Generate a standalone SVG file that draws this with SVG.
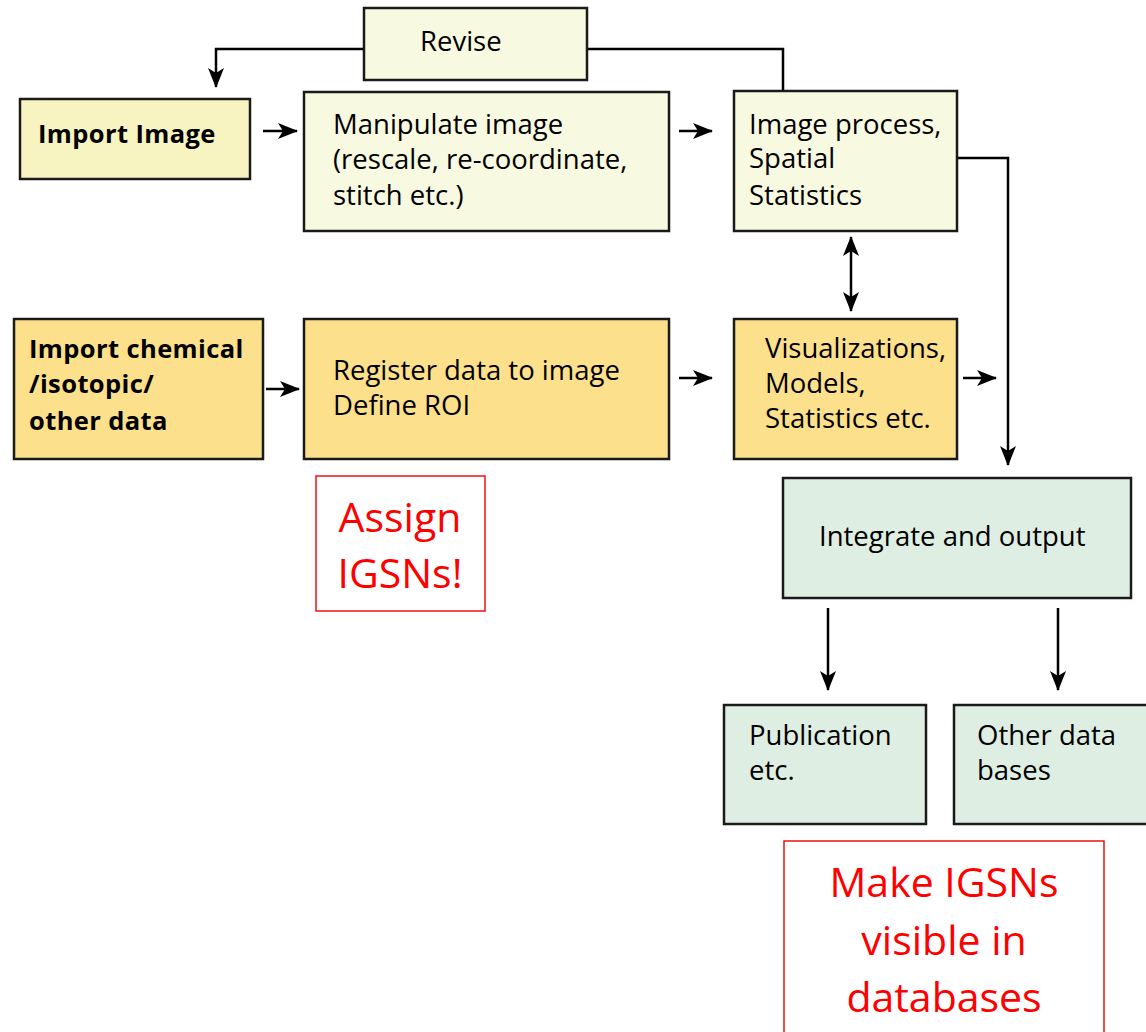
<svg xmlns="http://www.w3.org/2000/svg" width="1146" height="1032" viewBox="0 0 1146 1032">
<style>
.box{stroke:#1a1a1a;stroke-width:2.5}
.ly{fill:#f8f9e1}
.iy{fill:#f8f4c2}
.or{fill:#fde08b}
.gr{fill:#deeee3}
.red{fill:none;stroke:#ee1111;stroke-width:1.5}
.t{font-family:"Open Sans","Noto Sans",sans-serif;font-size:27.5px;fill:#000}
.b{font-family:"Open Sans","Noto Sans",sans-serif;font-size:25.5px;font-weight:bold;fill:#000;letter-spacing:0.4px}
.rt{font-family:"Open Sans","Noto Sans",sans-serif;font-size:41px;fill:#ff0000;text-anchor:middle}
.c{fill:none;stroke:#000;stroke-width:2.5}
</style>
<defs>
<marker id="ah" viewBox="0 0 20 16" refX="19" refY="8" markerWidth="20" markerHeight="16" orient="auto-start-reverse" markerUnits="userSpaceOnUse">
<path d="M0,0 L20,8 L0,16 L5,8 z" fill="#000"/>
</marker>
</defs>
<g id="connectors">
<path class="c" d="M364,49 H216 V87" marker-end="url(#ah)"/>
<path class="c" d="M587,49 H783 V91"/>
<path class="c" d="M263,131 H297" marker-end="url(#ah)"/>
<path class="c" d="M679,131 H712" marker-end="url(#ah)"/>
<path class="c" d="M957,158 H1008 V465" marker-end="url(#ah)"/>
<path class="c" d="M851,237 V311" marker-start="url(#ah)" marker-end="url(#ah)"/>
<path class="c" d="M266,389 H299" marker-end="url(#ah)"/>
<path class="c" d="M679,378 H712" marker-end="url(#ah)"/>
<path class="c" d="M963,378 H996" marker-end="url(#ah)"/>
<path class="c" d="M828,608 V690" marker-end="url(#ah)"/>
<path class="c" d="M1058,608 V690" marker-end="url(#ah)"/>
</g>
<g id="revise"><rect class="box ly" x="364" y="8" width="223" height="72"/><text class="t" x="420" y="51">Revise</text></g>
<g id="import-image"><rect class="box iy" x="20" y="99" width="230" height="80"/><text class="b" x="38" y="143">Import Image</text></g>
<g id="manipulate"><rect class="box ly" x="304" y="92" width="365" height="139"/>
<text class="t" x="333" y="134">Manipulate image</text>
<text class="t" x="333" y="169">(rescale, re-coordinate,</text>
<text class="t" x="333" y="205">stitch etc.)</text></g>
<g id="image-process"><rect class="box ly" x="734" y="91" width="223" height="140"/>
<text class="t" x="749" y="134">Image process,</text>
<text class="t" x="749" y="168">Spatial</text>
<text class="t" x="749" y="205">Statistics</text></g>
<g id="import-chem"><rect class="box or" x="14" y="319" width="249" height="140"/>
<text class="b" x="29" y="358">Import chemical</text>
<text class="b" x="29" y="393">/isotopic/</text>
<text class="b" x="29" y="430">other data</text></g>
<g id="register"><rect class="box or" x="304" y="319" width="365" height="140"/>
<text class="t" x="333" y="380">Register data to image</text>
<text class="t" x="333" y="415">Define ROI</text></g>
<g id="visualizations"><rect class="box or" x="734" y="319" width="223" height="140"/>
<text class="t" x="765" y="358">Visualizations,</text>
<text class="t" x="765" y="393">Models,</text>
<text class="t" x="765" y="428">Statistics etc.</text></g>
<g id="integrate"><rect class="box gr" x="783" y="478" width="348" height="120"/>
<text class="t" x="819" y="546">Integrate and output</text></g>
<g id="publication"><rect class="box gr" x="724" y="705" width="202" height="119"/>
<text class="t" x="749" y="745">Publication</text>
<text class="t" x="749" y="780">etc.</text></g>
<g id="other-db"><rect class="box gr" x="954" y="705" width="200" height="119"/>
<text class="t" x="977" y="745">Other data</text>
<text class="t" x="977" y="780">bases</text></g>
<g id="assign"><rect class="red" x="316" y="476" width="169" height="135"/>
<text class="rt" x="400" y="532">Assign</text>
<text class="rt" x="400" y="588">IGSNs!</text></g>
<g id="make-visible"><rect class="red" x="784" y="841" width="320" height="200"/>
<text class="rt" x="944" y="897">Make IGSNs</text>
<text class="rt" x="944" y="955">visible in</text>
<text class="rt" x="944" y="1012">databases</text></g>
</svg>
